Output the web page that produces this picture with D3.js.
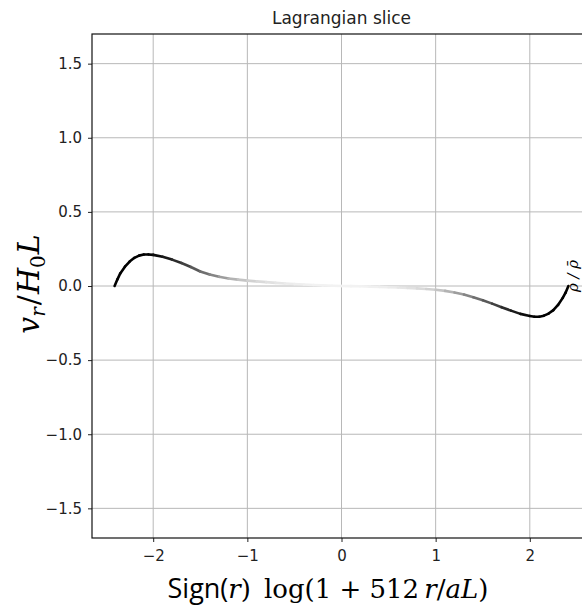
<!DOCTYPE html>
<html>
<head>
<meta charset="utf-8">
<style>
    body { margin: 0; background: #fff; }
    svg { display: block; }
    .tick text { font-family: "DejaVu Sans", sans-serif; font-size: 15px; fill: #222; }
    .tick line { stroke: #222; }
    .title { font-family: "DejaVu Sans", sans-serif; font-size: 17px; fill: #222; }
    .grid line { stroke: #b8b8b8; stroke-width: 1; }
</style>
</head>
<body>
<svg width="582" height="607"></svg>
<script src="https://d3js.org/d3.v7.min.js"></script>
<script>
// radial coordinate, Sign(r) log(1 + 512 r/aL)
let xs = [-2.41, -2.38, -2.35, -2.3, -2.25, -2.2, -2.15, -2.1, -2.05, -2.0, -1.9, -1.8, -1.7, -1.6,
    -1.5, -1.4, -1.3, -1.2, -1.1, -1.0, -0.9, -0.8, -0.7, -0.6, -0.5, -0.4, -0.3, -0.2, -0.1, 0.0,
    0.1, 0.2, 0.3, 0.4, 0.5, 0.6, 0.7, 0.8, 0.9, 1.0, 1.1, 1.2, 1.3, 1.4, 1.5, 1.6, 1.7, 1.8, 1.9,
    2.0, 2.05, 2.1, 2.15, 2.2, 2.25, 2.3, 2.35, 2.38, 2.41]
// radial velocity v_r / H0 L
let vr = [0.0, 0.045, 0.085, 0.13, 0.165, 0.19, 0.205, 0.212, 0.213, 0.21, 0.197, 0.178, 0.155, 0.128,
    0.098, 0.077, 0.062, 0.051, 0.043, 0.036, 0.031, 0.026, 0.021, 0.017, 0.013, 0.01, 0.007, 0.004, 0.002, 0.0,
    -0.001, -0.002, -0.004, -0.006, -0.008, -0.01, -0.013, -0.016, -0.02, -0.025, -0.033, -0.044, -0.058, -0.076, -0.096, -0.119, -0.143, -0.166, -0.188,
    -0.202, -0.207, -0.207, -0.2, -0.186, -0.163, -0.128, -0.08, -0.045, 0.0]
// density rho / rho-bar (colour)
let rho = [1.0, 1.0, 1.0, 1.0, 1.0, 1.0, 1.0, 1.0, 1.0, 0.98, 0.94, 0.89, 0.83, 0.76,
    0.68, 0.6, 0.52, 0.44, 0.37, 0.31, 0.26, 0.22, 0.19, 0.16, 0.14, 0.12, 0.11, 0.1, 0.1, 0.1,
    0.1, 0.1, 0.11, 0.12, 0.14, 0.16, 0.19, 0.22, 0.26, 0.31, 0.37, 0.44, 0.52, 0.6, 0.68, 0.76, 0.83, 0.89, 0.94,
    0.98, 1.0, 1.0, 1.0, 1.0, 1.0, 1.0, 1.0, 1.0, 1.0]

let xTicks = [-2, -1, 0, 1, 2]
let yTicks = [-1.5, -1.0, -0.5, 0.0, 0.5, 1.0, 1.5]

let margin = { top: 34, left: 92 }
let plotW = 499
let plotH = 504

let svg = d3.select("svg")

let x = d3.scaleLinear().domain([-2.65, 2.65]).range([margin.left, margin.left + plotW])
let y = d3.scaleLinear().domain([-1.7, 1.7]).range([margin.top + plotH, margin.top])
let color = d3.scaleSequential(d3.interpolateGreys).domain([0, 1])

let fmt = d => d3.format(".1f")(d).replace("-", "\u2212")

// grid
let grid = svg.append("g").attr("class", "grid")
grid.selectAll(".gx").data(xTicks).join("line")
    .attr("x1", d => x(d)).attr("x2", d => x(d))
    .attr("y1", margin.top).attr("y2", margin.top + plotH)
grid.selectAll(".gy").data(yTicks).join("line")
    .attr("y1", d => y(d)).attr("y2", d => y(d))
    .attr("x1", margin.left).attr("x2", margin.left + plotW)

// curve, coloured per segment by density
let pts = xs.map((d, i) => ({ x: d, v: vr[i], r: rho[i] }))
let segs = d3.pairs(pts)
svg.append("g")
    .selectAll("line")
    .data(segs)
    .join("line")
    .attr("x1", d => x(d[0].x)).attr("y1", d => y(d[0].v))
    .attr("x2", d => x(d[1].x)).attr("y2", d => y(d[1].v))
    .attr("stroke", d => color((d[0].r + d[1].r) / 2))
    .attr("stroke-width", 2.6)
    .attr("stroke-linecap", "round")

// axes
svg.append("g")
    .attr("transform", `translate(0,${margin.top + plotH})`)
    .call(d3.axisBottom(x).tickValues(xTicks).tickSize(4).tickPadding(8)
        .tickFormat(d => String(d).replace("-", "\u2212")))
    .call(g => g.select(".domain").remove())

svg.append("g")
    .attr("transform", `translate(${margin.left},0)`)
    .call(d3.axisLeft(y).tickValues(yTicks).tickSize(4).tickPadding(6).tickFormat(fmt))
    .call(g => g.select(".domain").remove())

// spines
svg.append("rect")
    .attr("x", margin.left).attr("y", margin.top)
    .attr("width", plotW).attr("height", plotH)
    .attr("fill", "none").attr("stroke", "#111").attr("stroke-width", 1.2)

// title
svg.append("text").attr("class", "title")
    .attr("x", x(0)).attr("y", 24).attr("text-anchor", "middle")
    .text("Lagrangian slice")

// y label
let yl = svg.append("text")
    .attr("transform", `translate(39,284) rotate(-90)`)
    .attr("text-anchor", "middle")
    .style("font-family", "'DejaVu Serif', serif")
    .style("font-size", "30px")
yl.append("tspan").style("font-style", "italic").text("v")
yl.append("tspan").style("font-style", "italic").style("font-size", "20px").attr("dy", 6).text("r")
yl.append("tspan").attr("dy", -6).attr("dx", 2).text("/")
yl.append("tspan").style("font-style", "italic").attr("dx", 1).text("H")
yl.append("tspan").style("font-size", "20px").attr("dy", 6).text("0")
yl.append("tspan").style("font-style", "italic").attr("dy", -6).attr("dx", 1).text("L")

// x label
let xl = svg.append("text")
    .attr("x", 328).attr("y", 598)
    .attr("text-anchor", "middle")
    .style("font-family", "'DejaVu Serif', serif")
    .style("font-size", "26px")
xl.append("tspan").style("font-family", "'Open Sans', sans-serif").style("font-size", "27px").text("Sign(")
xl.append("tspan").style("font-style", "italic").text("r")
xl.append("tspan").text(")\u2002log(1 + 512\u2009")
xl.append("tspan").style("font-style", "italic").text("r")
xl.append("tspan").text("/")
xl.append("tspan").style("font-style", "italic").text("aL")
xl.append("tspan").text(")")

// colourbar label (bar itself is off the right edge)
svg.append("text")
    .attr("transform", "translate(578,276) rotate(-90)")
    .attr("text-anchor", "middle")
    .style("font-family", "'DejaVu Serif', serif")
    .style("font-style", "italic")
    .style("font-size", "15px")
    .text("\u03c1 / \u03c1\u0304")
</script>
</body>
</html>
